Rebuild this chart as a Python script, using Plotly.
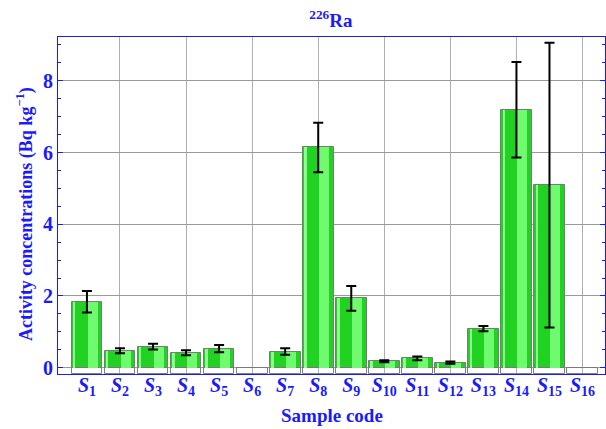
import plotly.graph_objects as go

samples = [f"S{i}" for i in range(1, 17)]
tick_labels = [f"<b><i>S</i><sub>{i}</sub></b>" for i in range(1, 17)]
activity = [1.84, 0.47, 0.59, 0.42, 0.53, 0.0, 0.45, 6.14, 1.93, 0.18, 0.26, 0.14, 1.09, 7.19, 5.09, 0.0]
uncert = [0.30, 0.07, 0.08, 0.07, 0.10, None, 0.09, 0.69, 0.345, 0.03, 0.055, 0.03, 0.07, 1.33, 3.97, None]
y_ticks = [0, 2, 4, 6, 8]

BLUE = "#1a1aff"
FONT = "Liberation Serif"
Y_MIN, Y_MAX = -0.175, 9.22

x = list(range(len(samples)))
fig = go.Figure()

# gray boxes below zero line (Mathematica style base)
fig.add_trace(go.Bar(x=x, y=[-Y_MIN] * len(x), base=Y_MIN, width=0.93,
                     marker=dict(color="rgba(255,255,255,0)", line=dict(color="#808080", width=1)),
                     hoverinfo="skip", showlegend=False))
# main bars
fig.add_trace(go.Bar(x=x, y=activity, width=0.93,
                     marker=dict(color="#22d222", line=dict(color="#7a7a7a", width=1)),
                     showlegend=False))
# gloss highlights
fig.add_trace(go.Bar(x=x, y=activity, width=0.07, offset=-0.42,
                     marker=dict(color="#8cff8c", line=dict(width=0)),
                     hoverinfo="skip", showlegend=False))
fig.add_trace(go.Bar(x=x, y=activity, width=0.3, offset=0.02,
                     marker=dict(color="#70fa70", line=dict(width=0)),
                     hoverinfo="skip", showlegend=False))
# error bars (only where an uncertainty exists)
ex = [xi for xi, u in zip(x, uncert) if u is not None]
ey = [a for a, u in zip(activity, uncert) if u is not None]
eu = [u for u in uncert if u is not None]
fig.add_trace(go.Scatter(x=ex, y=ey, mode="markers", marker=dict(size=1, color="rgba(0,0,0,0)"),
                         error_y=dict(type="data", array=eu,
                                      visible=True, color="black", thickness=2, width=5),
                         hoverinfo="skip", showlegend=False))

fig.update_layout(
    width=606, height=429,
    margin=dict(l=58, r=1, t=37, b=55, autoexpand=False),
    paper_bgcolor="white", plot_bgcolor="white",
    barmode="overlay", bargap=0,
    title=dict(text="<b><sup>226</sup>Ra</b>", x=0.546, xanchor="center", y=0.968, yanchor="top",
               font=dict(family=FONT, size=19, color=BLUE)),
    font=dict(family=FONT, color=BLUE),
    annotations=[
        dict(text="<b>Sample code</b>", xref="paper", yref="paper", x=0.5, y=-0.122,
             xanchor="center", yanchor="middle", showarrow=False,
             font=dict(family=FONT, size=19, color=BLUE)),
        dict(text="<b>Activity concentrations (Bq kg<sup>\u22121</sup>)</b>", xref="paper", yref="paper",
             x=-0.06, y=0.475, xanchor="center", yanchor="middle", showarrow=False, textangle=-90,
             font=dict(family=FONT, size=18, color=BLUE)),
    ],
)
fig.update_xaxes(
    range=[-0.876, 15.68], automargin=False,
    tickvals=x, ticktext=tick_labels,
    tickfont=dict(family=FONT, size=20, color=BLUE),
    ticklabelstandoff=-7,
    showgrid=False, zeroline=False,
    showline=True, linecolor=BLUE, linewidth=1, mirror=True,
    ticks="", ticklen=0,
    minor=dict(tick0=1, dtick=2, showgrid=True, gridcolor="#b0b0b0", gridwidth=1),
)
fig.update_yaxes(
    range=[Y_MIN, Y_MAX], automargin=False,
    tickvals=y_ticks, ticktext=[f"<b>{v}</b>" for v in y_ticks],
    tickfont=dict(family=FONT, size=20, color=BLUE),
    showgrid=True, gridcolor="#9a9a9a", gridwidth=1,
    zeroline=False,
    showline=True, linecolor=BLUE, linewidth=1, mirror="ticks",
    ticks="inside", ticklen=5, tickcolor=BLUE,
    minor=dict(dtick=0.5, ticks="inside", ticklen=3, tickcolor=BLUE, showgrid=False),
)

fig.write_html("out.html")
